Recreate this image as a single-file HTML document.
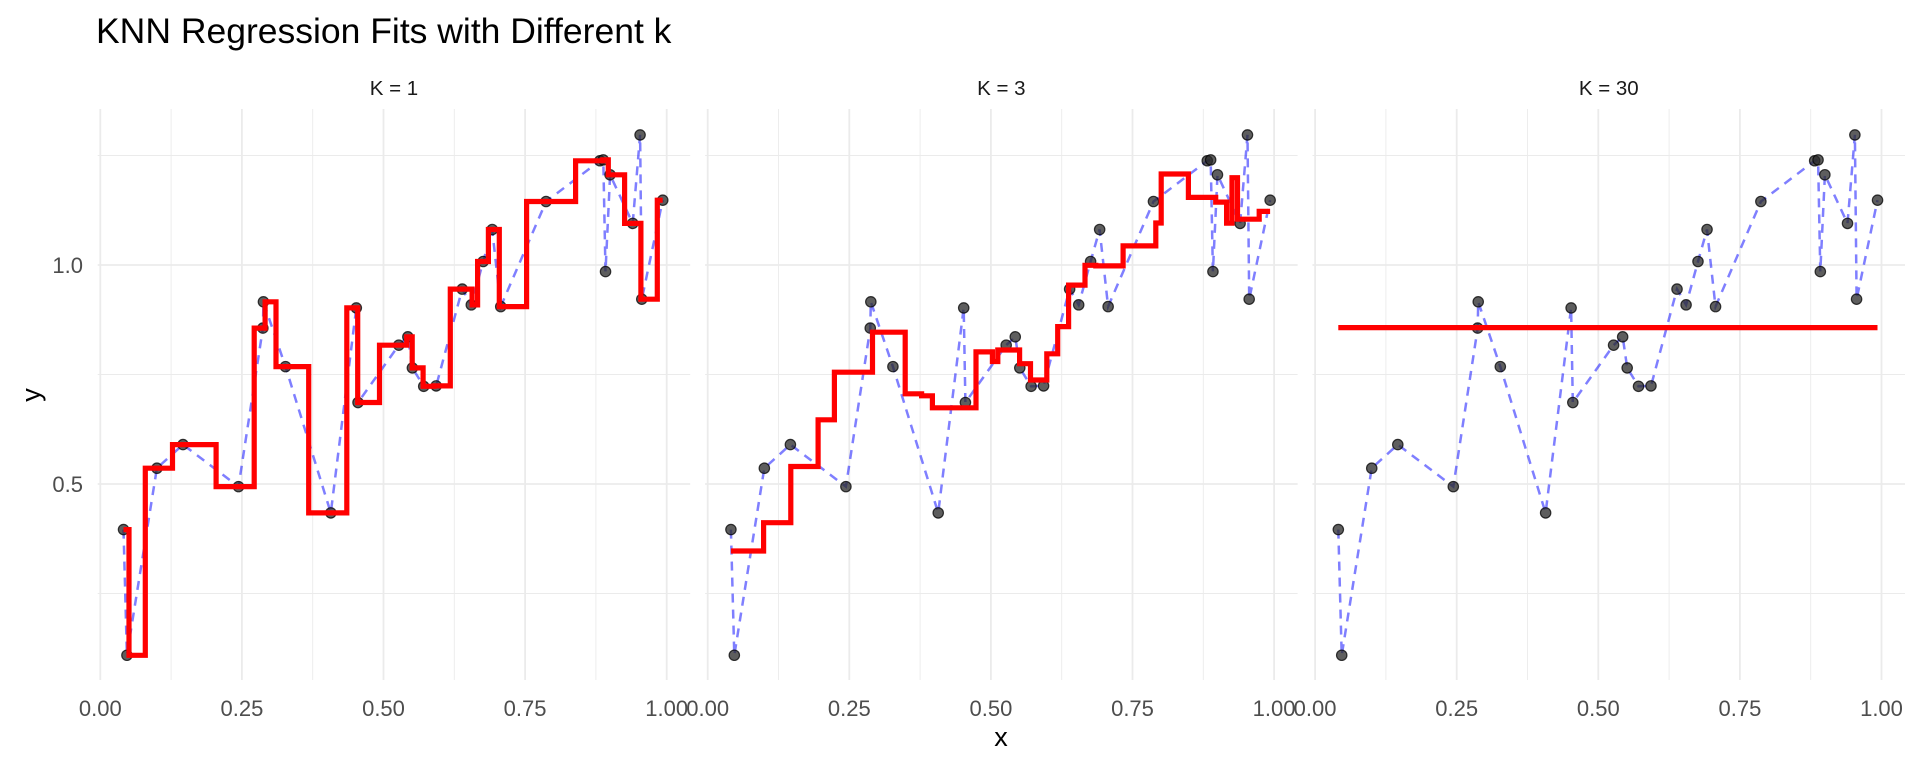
<!DOCTYPE html>
<html><head><meta charset="utf-8"><style>
html,body{margin:0;padding:0;background:#fff;width:1920px;height:768px;overflow:hidden}
svg text{font-family:"Liberation Sans",sans-serif}
</style></head><body>
<svg id="s" width="1920" height="768" xmlns="http://www.w3.org/2000/svg">
<text x="96" y="43" font-size="35.5" fill="#000">KNN Regression Fits with Different k</text>
<text x="1001" y="746" font-size="27" fill="#000" text-anchor="middle">x</text>
<text x="0" y="0" font-size="27" fill="#000" text-anchor="middle" transform="translate(40,395) rotate(-90)">y</text>
<text x="83" y="273" font-size="22" fill="#4d4d4d" text-anchor="end">1.0</text>
<text x="83" y="492" font-size="22" fill="#4d4d4d" text-anchor="end">0.5</text>
<g id="g"></g>
</svg>
<script>
var pts=[[0.041,0.396],[0.047,0.109],[0.100,0.536],[0.146,0.590],[0.244,0.494],[0.287,0.856],[0.288,0.916],[0.327,0.768],[0.407,0.434],[0.452,0.902],[0.455,0.686],[0.527,0.817],[0.543,0.836],[0.551,0.765],[0.571,0.723],[0.593,0.724],[0.639,0.945],[0.655,0.909],[0.676,1.008],[0.692,1.081],[0.707,0.905],[0.787,1.145],[0.882,1.238],[0.888,1.240],[0.892,0.985],[0.900,1.206],[0.940,1.095],[0.953,1.297],[0.956,0.922],[0.993,1.148]];
pts.sort(function(a,b){return a[0]-b[0]});
var g=document.getElementById('g'),h='';
function Y(v){return 265-(v-1)*438;}
var ks=[1,3,30],labs=['K = 1','K = 3','K = 30'];
for(var i=0;i<3;i++){
 var L=97.7+i*607.4,W=592.5,x0=100.3+i*607.4;
 function X(x){return x0+x*566.4;}
 [0.125,0.375,0.625,0.875].forEach(function(v){h+='<line x1="'+X(v)+'" x2="'+X(v)+'" y1="109" y2="680" stroke="#ebebeb" stroke-width="0.9"/>';});
 [0.25,0.75,1.25].forEach(function(v){h+='<line x1="'+L+'" x2="'+(L+W)+'" y1="'+Y(v)+'" y2="'+Y(v)+'" stroke="#ebebeb" stroke-width="0.9"/>';});
 [0,0.25,0.5,0.75,1].forEach(function(v){h+='<line x1="'+X(v)+'" x2="'+X(v)+'" y1="109" y2="680" stroke="#ebebeb" stroke-width="1.8"/>';
  h+='<text x="'+X(v)+'" y="716" font-size="22" fill="#4d4d4d" text-anchor="middle">'+v.toFixed(2)+'</text>';});
 [0.5,1.0].forEach(function(v){h+='<line x1="'+L+'" x2="'+(L+W)+'" y1="'+Y(v)+'" y2="'+Y(v)+'" stroke="#ebebeb" stroke-width="1.8"/>';});
 h+='<text x="'+(L+W/2)+'" y="95" font-size="20.5" fill="#1a1a1a" text-anchor="middle">'+labs[i]+'</text>';
 var d='';pts.forEach(function(p,j){d+=(j?'L':'M')+X(p[0]).toFixed(1)+' '+Y(p[1]).toFixed(1);});
 h+='<path d="'+d+'" fill="none" stroke="rgba(0,0,255,0.5)" stroke-width="2.5" stroke-dasharray="9 7"/>';
 pts.forEach(function(p){h+='<circle cx="'+X(p[0])+'" cy="'+Y(p[1])+'" r="5.2" fill="rgba(40,40,40,0.75)" stroke="rgba(0,0,0,0.75)" stroke-width="1.2"/>';});
 var k=ks[i],mn=pts[0][0],mx=pts[pts.length-1][0],N=100,fd='';
 for(var s=0;s<N;s++){
  var xx=mn+(mx-mn)*s/(N-1);
  var ds=pts.map(function(p){return [Math.abs(p[0]-xx),p[1]];}).sort(function(a,b){return a[0]-b[0]});
  var v=0,kk=Math.min(k,ds.length);for(var q=0;q<kk;q++)v+=ds[q][1];v/=kk;
  if(k>=30)v=0.857;
  var px=X(xx).toFixed(1),py=Y(v).toFixed(1);
  if(s==0)fd='M'+px+' '+py;else fd+='H'+px+'V'+py;
 }
 h+='<path d="'+fd+'" fill="none" stroke="#ff0000" stroke-width="5.2" stroke-linejoin="miter"/>';
}
g.innerHTML=h;
</script>
</body></html>
